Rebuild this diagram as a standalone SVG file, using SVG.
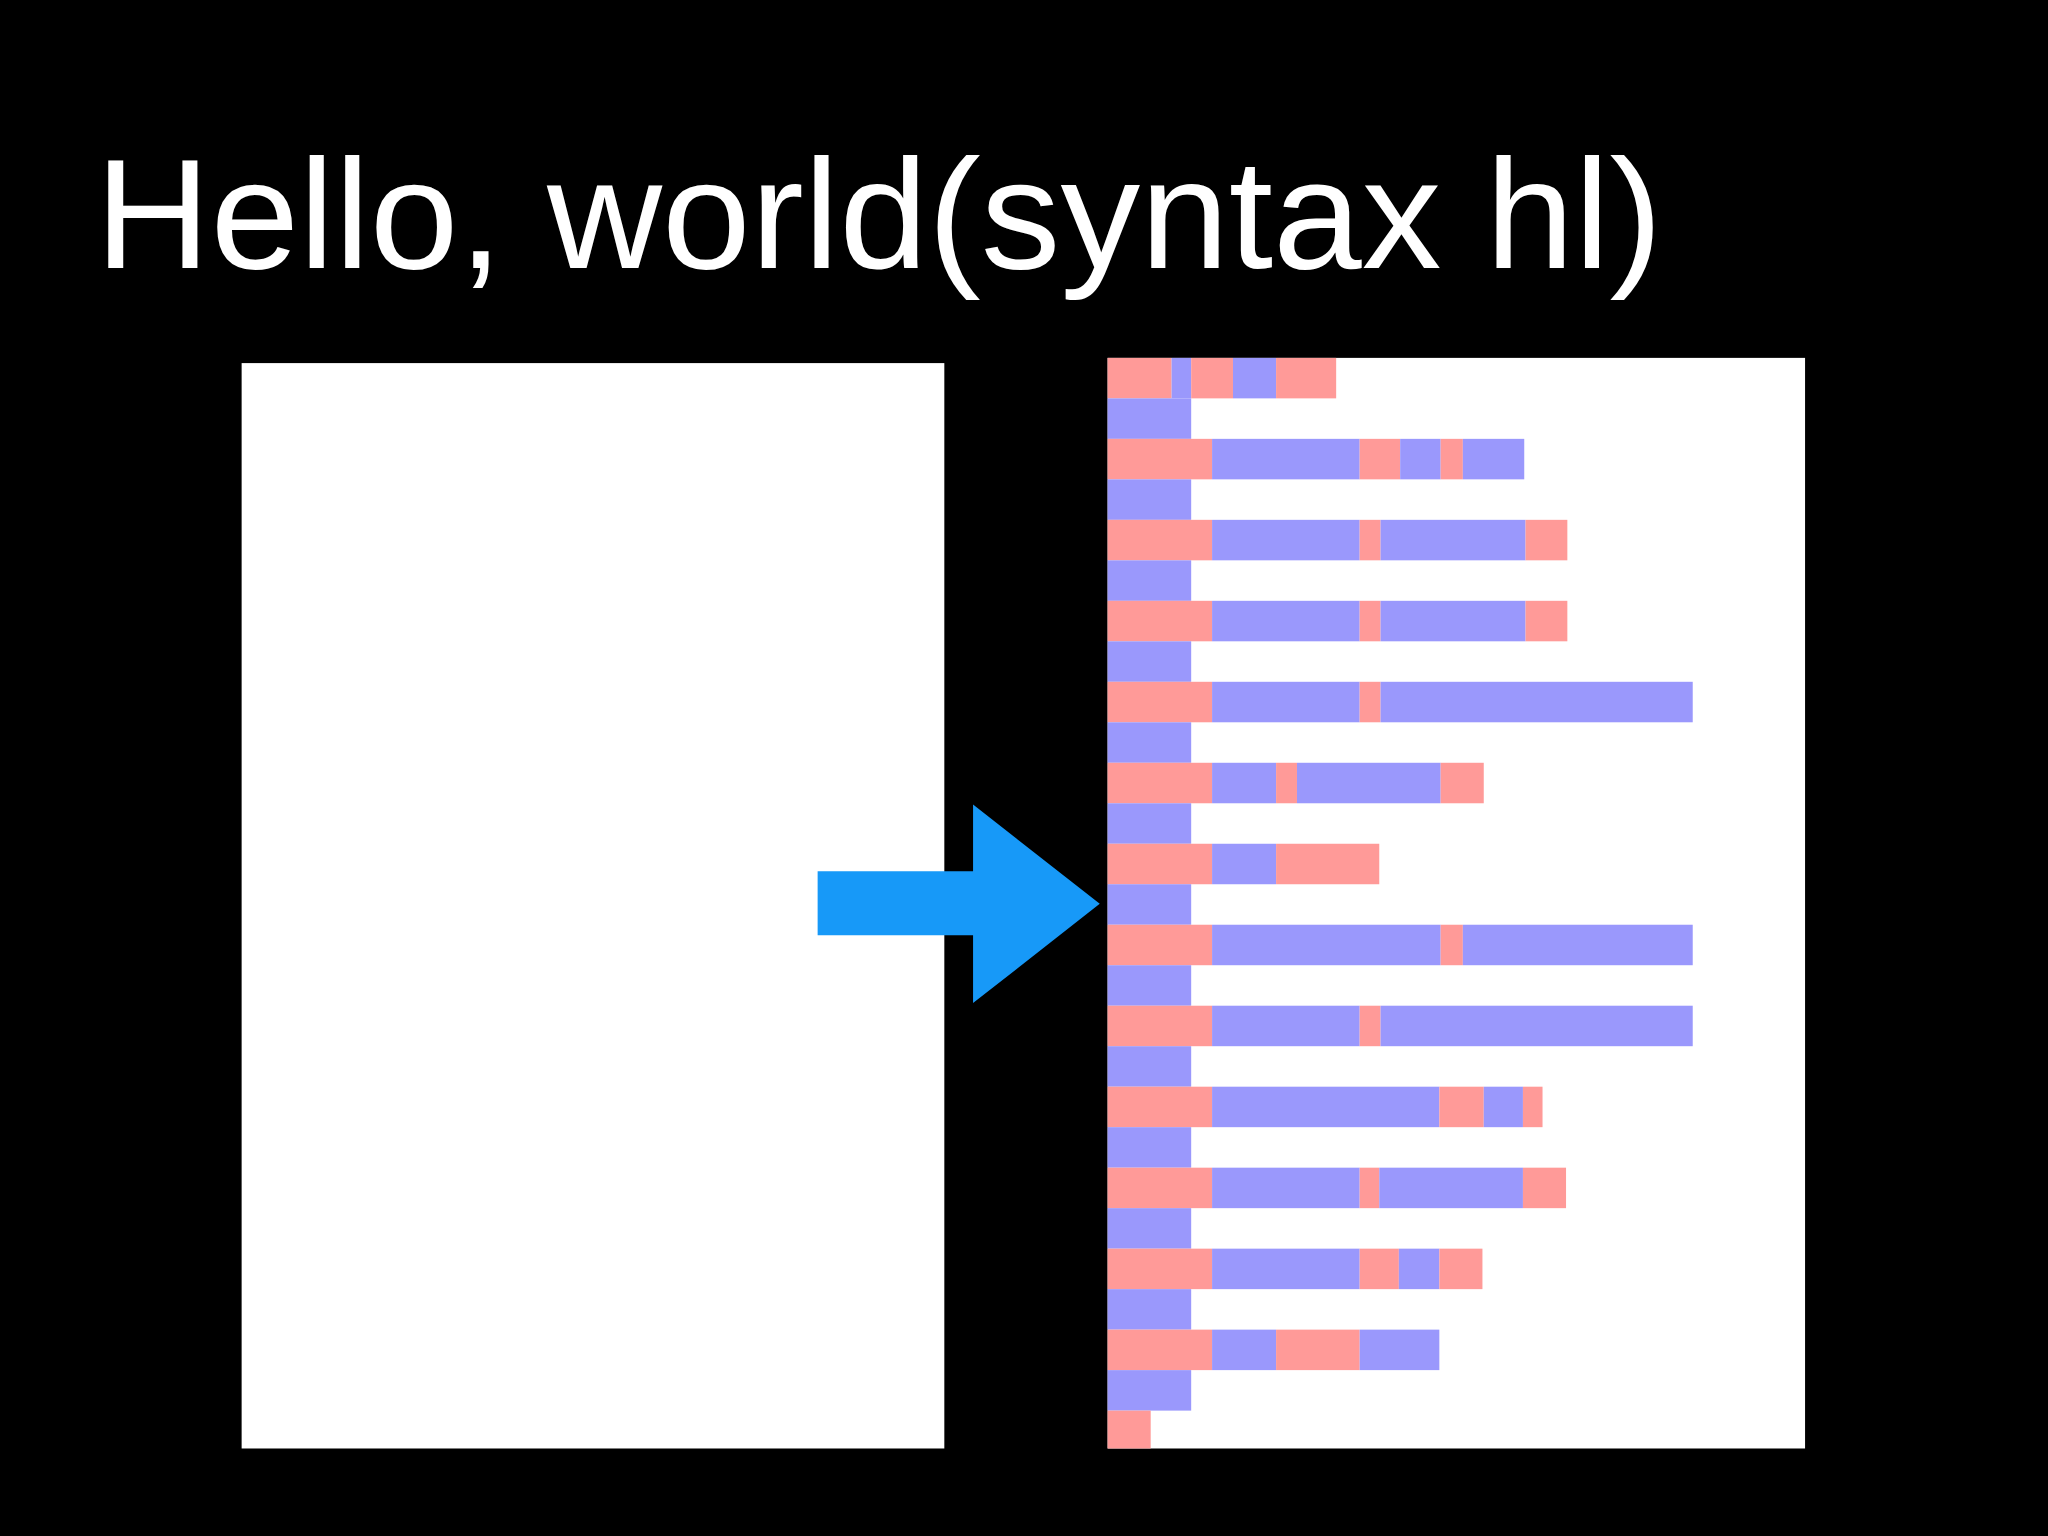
<svg xmlns="http://www.w3.org/2000/svg" width="2048" height="1536" viewBox="0 0 2048 1536">
<style>.p{fill:#ff9a98}.b{fill:#9a98fc}</style>
<rect width="2048" height="1536" fill="#000"/>
<g transform="scale(1.30612)">
<g id="title"><text x="73" y="205" font-family="Liberation Sans, Arial, sans-serif" font-size="119" fill="#fff" textLength="1200" lengthAdjust="spacingAndGlyphs">Hello, world(syntax hl)</text></g>
<g id="source"><rect x="185" y="278" width="538" height="831" fill="#fff"/></g>
<g id="highlighted">
<rect x="848" y="274" width="534" height="835" fill="#fff"/>
<g transform="translate(0,274)">
<rect class="p" x="848" y="0" width="49" height="31"/><rect class="b" x="897" y="0" width="15" height="31"/><rect class="p" x="912" y="0" width="32" height="31"/><rect class="b" x="944" y="0" width="33" height="31"/><rect class="p" x="977" y="0" width="46" height="31"/>
<rect class="b" x="848" y="31" width="64" height="31"/>
<rect class="p" x="848" y="62" width="80" height="31"/><rect class="b" x="928" y="62" width="113" height="31"/><rect class="p" x="1041" y="62" width="31" height="31"/><rect class="b" x="1072" y="62" width="31" height="31"/><rect class="p" x="1103" y="62" width="17" height="31"/><rect class="b" x="1120" y="62" width="47" height="31"/>
<rect class="b" x="848" y="93" width="64" height="31"/>
<rect class="p" x="848" y="124" width="80" height="31"/><rect class="b" x="928" y="124" width="113" height="31"/><rect class="p" x="1041" y="124" width="16" height="31"/><rect class="b" x="1057" y="124" width="111" height="31"/><rect class="p" x="1168" y="124" width="32" height="31"/>
<rect class="b" x="848" y="155" width="64" height="31"/>
<rect class="p" x="848" y="186" width="80" height="31"/><rect class="b" x="928" y="186" width="113" height="31"/><rect class="p" x="1041" y="186" width="16" height="31"/><rect class="b" x="1057" y="186" width="111" height="31"/><rect class="p" x="1168" y="186" width="32" height="31"/>
<rect class="b" x="848" y="217" width="64" height="31"/>
<rect class="p" x="848" y="248" width="80" height="31"/><rect class="b" x="928" y="248" width="113" height="31"/><rect class="p" x="1041" y="248" width="16" height="31"/><rect class="b" x="1057" y="248" width="239" height="31"/>
<rect class="b" x="848" y="279" width="64" height="31"/>
<rect class="p" x="848" y="310" width="80" height="31"/><rect class="b" x="928" y="310" width="49" height="31"/><rect class="p" x="977" y="310" width="16" height="31"/><rect class="b" x="993" y="310" width="110" height="31"/><rect class="p" x="1103" y="310" width="33" height="31"/>
<rect class="b" x="848" y="341" width="64" height="31"/>
<rect class="p" x="848" y="372" width="80" height="31"/><rect class="b" x="928" y="372" width="49" height="31"/><rect class="p" x="977" y="372" width="79" height="31"/>
<rect class="b" x="848" y="403" width="64" height="31"/>
<rect class="p" x="848" y="434" width="80" height="31"/><rect class="b" x="928" y="434" width="175" height="31"/><rect class="p" x="1103" y="434" width="17" height="31"/><rect class="b" x="1120" y="434" width="176" height="31"/>
<rect class="b" x="848" y="465" width="64" height="31"/>
<rect class="p" x="848" y="496" width="80" height="31"/><rect class="b" x="928" y="496" width="113" height="31"/><rect class="p" x="1041" y="496" width="16" height="31"/><rect class="b" x="1057" y="496" width="239" height="31"/>
<rect class="b" x="848" y="527" width="64" height="31"/>
<rect class="p" x="848" y="558" width="80" height="31"/><rect class="b" x="928" y="558" width="174" height="31"/><rect class="p" x="1102" y="558" width="34" height="31"/><rect class="b" x="1136" y="558" width="30" height="31"/><rect class="p" x="1166" y="558" width="15" height="31"/>
<rect class="b" x="848" y="589" width="64" height="31"/>
<rect class="p" x="848" y="620" width="80" height="31"/><rect class="b" x="928" y="620" width="113" height="31"/><rect class="p" x="1041" y="620" width="15" height="31"/><rect class="b" x="1056" y="620" width="110" height="31"/><rect class="p" x="1166" y="620" width="33" height="31"/>
<rect class="b" x="848" y="651" width="64" height="31"/>
<rect class="p" x="848" y="682" width="80" height="31"/><rect class="b" x="928" y="682" width="113" height="31"/><rect class="p" x="1041" y="682" width="30" height="31"/><rect class="b" x="1071" y="682" width="31" height="31"/><rect class="p" x="1102" y="682" width="33" height="31"/>
<rect class="b" x="848" y="713" width="64" height="31"/>
<rect class="p" x="848" y="744" width="80" height="31"/><rect class="b" x="928" y="744" width="49" height="31"/><rect class="p" x="977" y="744" width="64" height="31"/><rect class="b" x="1041" y="744" width="61" height="31"/>
<rect class="b" x="848" y="775" width="64" height="31"/>
<rect class="p" x="848" y="806" width="33" height="29"/>
</g>
</g>
<g id="connectors"><polygon points="626,667 745,667 745,616 842,692 745,768 745,716 626,716" fill="#1799f8"/></g>
</g>
</svg>
